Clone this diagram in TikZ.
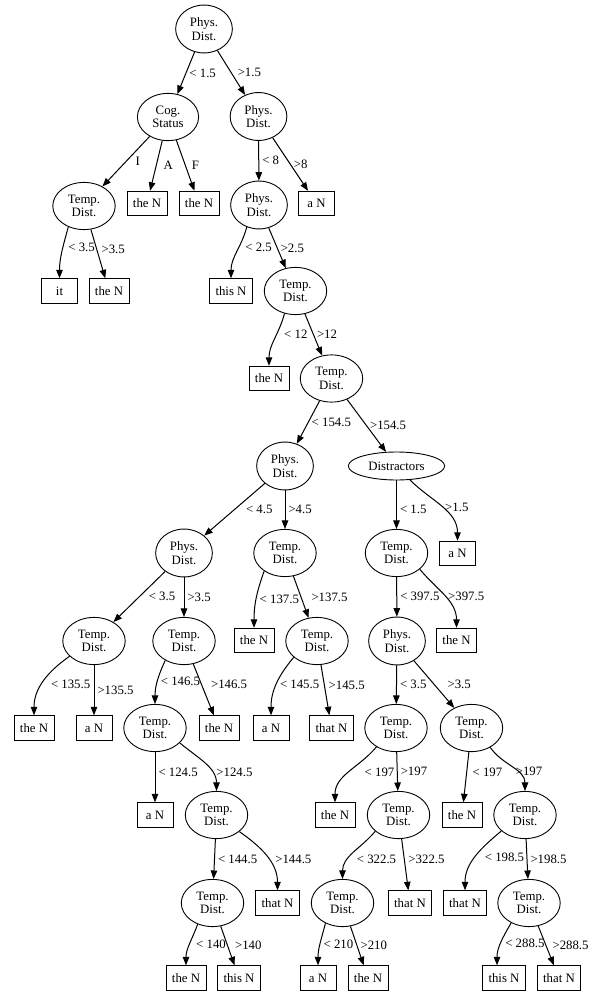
\documentclass[tikz,border=0pt]{standalone}
\usepackage{fontspec}
\setmainfont{Liberation Serif}
\usetikzlibrary{arrows.meta, shapes.geometric}

\begin{document}
\begin{tikzpicture}[
    x=1pt, y=1pt,
    font=\fontsize{12.8}{13.6}\selectfont,
    >={Triangle[length=8.5pt, width=6.5pt]},
    % decision nodes, leaves, branches
    cond/.style={ellipse, draw=black, line width=0.9pt, align=center, inner xsep=6pt, inner ysep=5.6pt},
    outcome/.style={rectangle, draw=black, line width=0.9pt, inner xsep=6pt, inner ysep=2pt, minimum width=36pt, minimum height=24.5pt},
    branch/.style={->, line width=1pt},
    lbl/.style={anchor=west, inner sep=3pt}
]
    \useasboundingbox (0,0) rectangle (598,-992);

    % ================= TOP LEVELS =================
    \node[cond] (root) at (204,-29) {Phys.\\Dist.};
    \node[cond] (cog) at (168,-117) {Cog.\\Status};
    \node[cond] (pd2) at (258.5,-116.5) {Phys.\\Dist.};

    \node[cond] (td3) at (84,-206) {Temp.\\Dist.};
    \node[outcome] (theNa) at (147,-203.5) {the N};
    \node[outcome] (theNb) at (199,-203.5) {the N};
    \node[cond] (pd3) at (259,-205) {Phys.\\Dist.};
    \node[outcome] (aN1) at (316.5,-203.5) {a N};

    \node[outcome] (it) at (59.5,-291) {it};
    \node[outcome] (theNc) at (109,-291) {the N};
    \node[outcome] (thisN1) at (231,-291) {this N};
    \node[cond] (td4) at (295.5,-291) {Temp.\\Dist.};

    \node[outcome] (theNd) at (269,-378.5) {the N};
    \node[cond] (td5) at (331.5,-378.5) {Temp.\\Dist.};

    % ================= MIDDLE =================
    \node[cond] (pd6) at (285,-466) {Phys.\\Dist.};
    \node[cond] (dist) at (396.5,-466) {Distractors};

    \node[cond] (pd7) at (184,-553) {Phys.\\Dist.};
    \node[cond] (td7a) at (285,-553) {Temp.\\Dist.};
    \node[cond] (td7b) at (396.5,-553) {Temp.\\Dist.};
    \node[outcome] (aN2) at (457.5,-553.5) {a N};

    \node[cond] (td8a) at (94,-641) {Temp.\\Dist.};
    \node[cond] (td8b) at (184,-641) {Temp.\\Dist.};
    \node[outcome] (theNe) at (254,-640.5) {the N};
    \node[cond] (td8c) at (317,-641) {Temp.\\Dist.};
    \node[cond] (pd8) at (397,-641) {Phys.\\Dist.};
    \node[outcome] (theNf) at (456.5,-640.5) {the N};

    \node[outcome] (theNg) at (34,-728) {the N};
    \node[outcome] (aN3) at (94,-728) {a N};
    \node[cond] (td9a) at (155,-728) {Temp.\\Dist.};
    \node[outcome] (theNh) at (219,-728) {the N};
    \node[outcome] (aN4) at (271,-728) {a N};
    \node[outcome] (thatN1) at (331.5,-728) {that N};
    \node[cond] (td9b) at (396,-728) {Temp.\\Dist.};
    \node[cond] (td9c) at (471.5,-728) {Temp.\\Dist.};

    % ================= BOTTOM =================
    \node[outcome] (aN5) at (155,-815) {a N};
    \node[cond] (td10a) at (216.5,-815) {Temp.\\Dist.};
    \node[outcome] (theNi) at (335,-815) {the N};
    \node[cond] (td10b) at (398.5,-815) {Temp.\\Dist.};
    \node[outcome] (theNj) at (462,-815) {the N};
    \node[cond] (td10c) at (525,-815) {Temp.\\Dist.};

    \node[cond] (td11a) at (212.5,-903) {Temp.\\Dist.};
    \node[outcome] (thatN2) at (277.5,-903) {that N};
    \node[cond] (td11b) at (342.5,-903) {Temp.\\Dist.};
    \node[outcome] (thatN3) at (410,-903) {that N};
    \node[outcome] (thatN4) at (465,-903) {that N};
    \node[cond] (td11c) at (529,-903) {Temp.\\Dist.};

    \node[outcome] (theNk) at (186,-978) {the N};
    \node[outcome] (thisN2) at (239,-978) {this N};
    \node[outcome] (aN6) at (318,-978) {a N};
    \node[outcome] (theNl) at (368,-978) {the N};
    \node[outcome] (thisN3) at (504,-978) {this N};
    \node[outcome] (thatN5) at (559,-978) {that N};

    % ================= BRANCHES =================
    \draw[branch] (root) -- node[lbl] {< 1.5} (cog);
    \draw[branch] (root) -- node[lbl, xshift=3pt] {>1.5} (pd2);

    \draw[branch] (cog) -- node[lbl, xshift=6pt] {I} (td3);
    \draw[branch] (cog) -- node[lbl, xshift=4pt] {A} (theNa);
    \draw[branch] (cog) -- node[lbl, xshift=3pt] {F} (theNb);
    \draw[branch] (pd2) -- node[lbl] {< 8} (pd3);
    \draw[branch] (pd2) -- node[lbl] {>8} (aN1);

    \draw[branch] (td3.233) to[out=-105, in=90] node[lbl, xshift=3pt, yshift=5pt] {< 3.5} (it);
    \draw[branch] (td3) -- node[lbl, yshift=5pt] {>3.5} (theNc);
    \draw[branch] (pd3.241) to[out=-105, in=90] node[lbl, xshift=5pt, yshift=5pt] {< 2.5} (thisN1);
    \draw[branch] (pd3) -- node[lbl] {>2.5} (td4);

    \draw[branch] (td4.244) to[out=-105, in=90] node[lbl, xshift=6pt, yshift=5pt] {< 12} (theNd);
    \draw[branch] (td4) -- node[lbl] {>12} (td5);

    \draw[branch] (td5) -- node[lbl] {< 154.5} (pd6);
    \draw[branch] (td5) -- node[lbl] {>154.5} (dist);

    \draw[branch] (pd6) -- node[lbl, xshift=8pt] {< 4.5} (pd7);
    \draw[branch] (pd6) -- node[lbl] {>4.5} (td7a);
    \draw[branch] (dist) -- node[lbl, yshift=-5pt] {< 1.5} (td7b);
    \draw[branch] (dist.-46) to[out=-45, in=90] node[lbl] {>1.5} (aN2);

    \draw[branch] (pd7) -- node[lbl, xshift=6pt] {< 3.5} (td8a);
    \draw[branch] (pd7) -- node[lbl] {>3.5} (td8b);
    \draw[branch] (td7a.221) to[out=-110, in=90] node[lbl] {< 137.5} (theNe);
    \draw[branch] (td7a) -- node[lbl, xshift=7pt] {>137.5} (td8c);
    \draw[branch] (td7b) -- node[lbl] {< 397.5} (pd8);
    \draw[branch] (td7b.-35) to[out=-50, in=90] node[lbl] {>397.5} (theNf);

    \draw[branch] (td8a.212) to[out=-145, in=90] node[lbl, xshift=4pt, yshift=-3pt] {< 135.5} (theNg);
    \draw[branch] (td8a) -- node[lbl] {>135.5} (aN3);
    \draw[branch] (td8b.226) to[out=-115, in=90] node[lbl] {< 146.5} (td9a);
    \draw[branch] (td8b) -- node[lbl, xshift=4pt, yshift=5pt] {>146.5} (theNh);
    \draw[branch] (td8c.215) to[out=-130, in=90] node[lbl] {< 145.5} (aN4);
    \draw[branch] (td8c) -- node[lbl, yshift=5pt] {>145.5} (thatN1);
    \draw[branch] (pd8) -- node[lbl] {< 3.5} (td9b);
    \draw[branch] (pd8) -- node[lbl, xshift=10pt] {>3.5} (td9c);

    \draw[branch] (td9a) -- node[lbl, yshift=5pt] {< 124.5} (aN5);
    \draw[branch] (td9a.-31) to[out=-40, in=90] node[lbl, xshift=8pt, yshift=-9pt] {>124.5} (td10a);
    \draw[branch] (td9b.224) to[out=-130, in=90] node[lbl, xshift=12pt] {< 197} (theNi);
    \draw[branch] (td9b) -- node[lbl] {>197} (td10b);
    \draw[branch] (td9c) -- node[lbl, xshift=3pt, yshift=5pt] {< 197} (theNj);
    \draw[branch] (td9c.-46) to[out=-55, in=90] node[lbl, yshift=-4pt] {>197} (td10c);

    \draw[branch] (td10a) -- node[lbl] {< 144.5} (td11a);
    \draw[branch] (td10a.-36) to[out=-35, in=90] node[lbl, xshift=5pt, yshift=-3pt] {>144.5} (thatN2);
    \draw[branch] (td10b.215) to[out=-130, in=90] node[lbl, yshift=-6pt] {< 322.5} (td11b);
    \draw[branch] (td10b) -- node[lbl, yshift=5pt] {>322.5} (thatN3);
    \draw[branch] (td10c.214) to[out=-140, in=90] node[lbl, xshift=6pt] {< 198.5} (thatN4);
    \draw[branch] (td10c) -- node[lbl] {>198.5} (td11c);

    \draw[branch] (td11a.235) to[out=-110, in=90] node[lbl, xshift=3pt] {< 140} (theNk);
    \draw[branch] (td11a) -- node[lbl, xshift=4pt] {>140} (thisN2);
    \draw[branch] (td11b.230) to[out=-105, in=90] node[lbl] {< 210} (aN6);
    \draw[branch] (td11b) -- node[lbl] {>210} (theNl);
    \draw[branch] (td11c.228) to[out=-120, in=90] node[lbl, xshift=1pt] {< 288.5} ([xshift=-7pt]thisN3.north);
    \draw[branch] (td11c) -- node[lbl, xshift=3pt] {>288.5} (thatN5);

\end{tikzpicture}
\end{document}
